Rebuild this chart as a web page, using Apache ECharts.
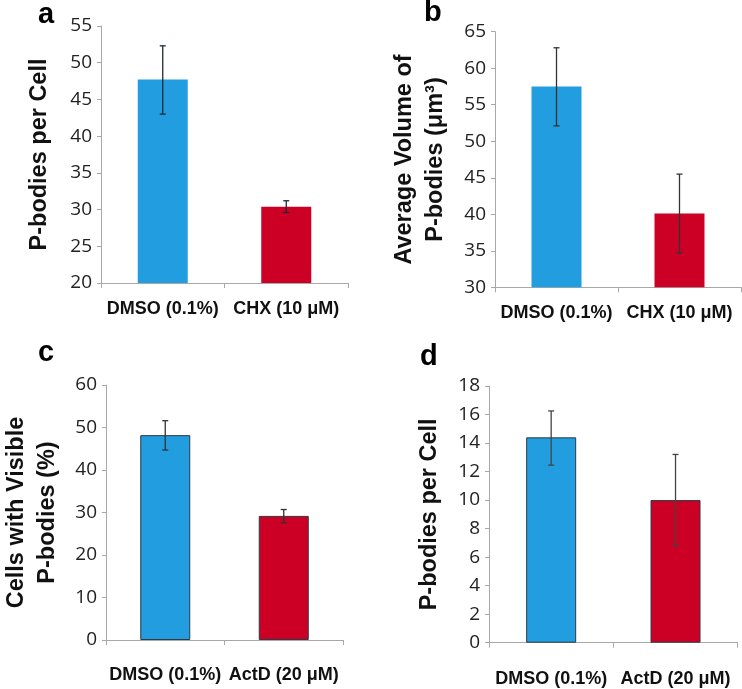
<!DOCTYPE html>
<html>
<head>
<meta charset="utf-8">
<script src="https://cdn.jsdelivr.net/npm/echarts@6/dist/echarts.min.js"></script>
<style>html,body{margin:0;padding:0;background:#fff}#c{width:742px;height:689px}</style>
</head>
<body>
<div id="c"></div>
<script>
const categoriesAB = ['DMSO (0.1%)', 'CHX (10 μM)'];
const categoriesCD = ['DMSO (0.1%)', 'ActD (20 μM)'];

const valuesA = [47.7, 30.4];
const lowA = [43.0, 29.6];
const highA = [52.3, 31.2];

const valuesB = [57.5, 40.1];
const lowB = [52.1, 34.7];
const highB = [62.8, 45.5];

const valuesC = [48.2, 29.2];
const lowC = [44.7, 27.6];
const highC = [51.6, 30.7];

const valuesD = [14.4, 10.0];
const lowD = [12.45, 6.8];
const highD = [16.25, 13.2];

const titleA = 'P-bodies per Cell';
const titleB = 'Average Volume of\nP-bodies (μm³)';
const titleC = 'Cells with Visible\nP-bodies (%)';
const titleD = 'P-bodies per Cell';

const BLUE = '#229ddf';
const RED = '#cc0025';
const AXIS = '#a8a8a8';

const chart = echarts.init(document.getElementById('c'));

const grids = [
  {left: 101, top: 26, width: 247, height: 257},
  {left: 495, top: 31.7, width: 246, height: 255.6},
  {left: 97.7, top: 385, width: 245.3, height: 255},
  {left: 489, top: 386, width: 248.7, height: 256.7}
];

const yCfg = [
  {min: 20, max: 55, interval: 5, name: titleA, gap: 46},
  {min: 30, max: 65, interval: 5, name: titleB, gap: 44},
  {min: 0, max: 60, interval: 10, name: titleC, gap: 43},
  {min: 0, max: 18, interval: 2, name: titleD, gap: 44}
];

const cats = [categoriesAB, categoriesAB, categoriesCD, categoriesCD];
const labelMargins = [17, 17, 26, 27];

const xAxes = cats.map((c, i) => ({
  type: 'category', gridIndex: i, data: c,
  axisLine: {lineStyle: {color: AXIS, width: 1}},
  axisTick: {show: true, length: 5, lineStyle: {color: AXIS}},
  axisLabel: {interval: 0, margin: labelMargins[i], color: '#111', fontFamily: 'Liberation Sans', fontWeight: 'bold', fontSize: 18}
}));

const yAxes = yCfg.map((y, i) => ({
  type: 'value', gridIndex: i, min: y.min, max: y.max, interval: y.interval,
  name: y.name, nameLocation: 'middle', nameRotate: 90, nameGap: y.gap,
  nameTextStyle: {color: '#111', fontFamily: 'Liberation Sans', fontWeight: 'bold', fontSize: 23.5, lineHeight: 31, align: 'center'},
  axisLine: {show: true, lineStyle: {color: AXIS, width: 1}},
  axisTick: {show: true, length: 4, lineStyle: {color: AXIS}},
  splitLine: {show: false},
  axisLabel: {margin: 9, color: '#222', fontFamily: 'Open Sans', fontSize: 19}
}));

const vals = [valuesA, valuesB, valuesC, valuesD];
const lows = [lowA, lowB, lowC, lowD];
const highs = [highA, highB, highC, highD];
const borders = [0, 0, 1, 1];
const errColors = ['#1c2a36', '#333333', '#333333', '#444444'];

const series = [];
vals.forEach((v, i) => {
  series.push({
    type: 'bar', xAxisIndex: i, yAxisIndex: i, barWidth: 50,
    data: v.map((val, k) => ({value: val, itemStyle: {color: k === 0 ? BLUE : RED, borderColor: '#2b3a44', borderWidth: borders[i]}})),
    z: 2
  });
  series.push({
    type: 'custom', xAxisIndex: i, yAxisIndex: i, z: 5,
    data: v.map((val, k) => [k, lows[i][k], highs[i][k]]),
    renderItem: function (params, api) {
      const x = api.value(0);
      const lo = api.coord([x, api.value(1)]);
      const hi = api.coord([x, api.value(2)]);
      const cap = 3;
      const st = {stroke: errColors[i], lineWidth: 1.3};
      return {
        type: 'group',
        children: [
          {type: 'line', shape: {x1: lo[0], y1: lo[1], x2: hi[0], y2: hi[1]}, style: st},
          {type: 'line', shape: {x1: lo[0] - cap, y1: lo[1], x2: lo[0] + cap, y2: lo[1]}, style: st},
          {type: 'line', shape: {x1: hi[0] - cap, y1: hi[1], x2: hi[0] + cap, y2: hi[1]}, style: st}
        ]
      };
    }
  });
});

const letterStyle = {fill: '#000', font: 'bold 29px "Liberation Sans"', textAlign: 'left', textVerticalAlign: 'top'};
chart.setOption({
  animation: false,
  grid: grids,
  xAxis: xAxes,
  yAxis: yAxes,
  series: series,
  graphic: [
    {type: 'text', left: 38, top: 0, style: Object.assign({text: 'a'}, letterStyle)},
    {type: 'text', left: 424, top: -2, style: Object.assign({text: 'b'}, letterStyle)},
    {type: 'text', left: 38, top: 338, style: Object.assign({text: 'c'}, letterStyle)},
    {type: 'text', left: 420, top: 342, style: Object.assign({text: 'd'}, letterStyle)}
  ]
});
</script>
</body>
</html>
